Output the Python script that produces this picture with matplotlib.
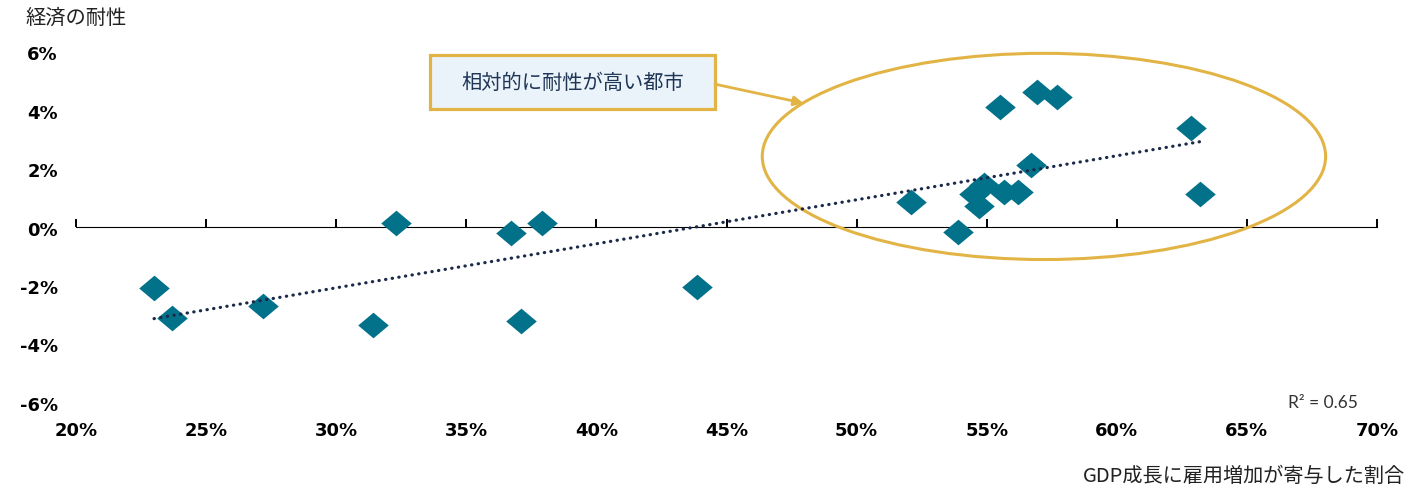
import numpy as np
import matplotlib
matplotlib.use("Agg")
import matplotlib.pyplot as plt
from matplotlib.patches import Ellipse, Rectangle
from matplotlib.path import Path
from matplotlib.ticker import FuncFormatter, NullFormatter

plt.rcParams['font.family'] = ['Noto Sans CJK JP', 'DejaVu Sans']

# data (percent)
employment_share = [23.0, 23.7, 27.2, 31.4, 32.3, 36.7, 37.9, 37.1, 43.85,
                    52.1, 53.9, 55.5, 56.95, 57.7, 62.85, 63.2, 56.7,
                    54.7, 54.9, 54.5, 55.65, 56.2]
resilience = [-2.08, -3.08, -2.67, -3.32, 0.14, -0.2, 0.17, -3.18, -2.02,
              0.86, -0.17, 4.11, 4.62, 4.45, 3.39, 1.16, 2.12,
              0.72, 1.47, 1.13, 1.2, 1.2]
x_ticks = [20, 25, 30, 35, 40, 45, 50, 55, 60, 65, 70]
y_ticks = [-6, -4, -2, 0, 2, 4, 6]
r2_label = "R² = 0.65"
callout_label = "相対的に耐性が高い都市"
y_title = "経済の耐性"
x_title = "GDP成長に雇用増加が寄与した割合"

teal = '#02728A'
gold = '#E2B445'
navy = '#1B2A4A'

fig = plt.figure(figsize=(14.21, 4.89), dpi=100)
ax = fig.add_axes([76/1421, 85/489, 1301/1421, 351/489])
ax.set_xlim(20, 70)
ax.set_ylim(-6, 6)

for s in ax.spines.values():
    s.set_visible(False)

ax.set_xticks(x_ticks)
ax.set_yticks(y_ticks)
fmt = FuncFormatter(lambda v, p: f"{v:.0f}%")
ax.xaxis.set_major_formatter(fmt)
ax.yaxis.set_major_formatter(fmt)
ax.tick_params(axis='x', length=0, pad=13, labelsize=13)
ax.tick_params(axis='y', length=0, pad=13, labelsize=13)
for lab in ax.get_xticklabels() + ax.get_yticklabels():
    lab.set_fontweight('bold')
    lab.set_family('DejaVu Sans')

sec = ax.secondary_xaxis(0.5)
sec.set_xticks(x_ticks)
sec.xaxis.set_major_formatter(NullFormatter())
sec.tick_params(axis='x', direction='out', length=6, width=1.4, color='black',
                labelbottom=False, labeltop=False)
sec.spines['bottom'].set_linewidth(1.4)
sec.spines['bottom'].set_color('black')

# diamond marker (slightly flattened)
diamond = Path([(-1, 0), (0, 0.84), (1, 0), (0, -0.84), (-1, 0)],
               [Path.MOVETO, Path.LINETO, Path.LINETO, Path.LINETO, Path.CLOSEPOLY])
ax.plot(employment_share, resilience, linestyle='none', marker=diamond,
        markersize=22, color=teal, markeredgewidth=0, zorder=3)

# trend line
xs = np.array(employment_share)
ys = np.array(resilience)
k, b = np.polyfit(xs, ys, 1)
xl = np.array([xs.min(), xs.max()])
ax.plot(xl, k * xl + b, linestyle=(0, (0.1, 2.0)), color=navy, linewidth=2.3, zorder=4,
        dash_capstyle='round')

# ellipse
ax.add_patch(Ellipse((57.2, 2.43), 21.65, 7.05, fill=False, edgecolor=gold,
                     linewidth=2.2, zorder=2, clip_on=False))

# callout box
ax.add_patch(Rectangle((33.62, 4.04), 10.92, 1.85, facecolor='#EBF3FA',
                       edgecolor=gold, linewidth=2.3, zorder=5, clip_on=False))
ax.text(39.08, 4.95, callout_label, ha='center', va='center', fontsize=14.6,
        color='#1F3556', zorder=6)
ax.annotate('', xy=(47.96, 4.25), xytext=(44.56, 4.9),
            arrowprops=dict(arrowstyle='-|>', color=gold, lw=2, mutation_scale=14,
                            shrinkA=0, shrinkB=0), zorder=5)

ax.text(69.27, -5.98, r2_label, ha='right', va='center', fontsize=12.5,
        color='#333333', family=['Lato', 'DejaVu Sans'])

fig.text(25/1421, 1 - 18/489, y_title, ha='left', va='center', fontsize=14.6, color='#222222')
fig.text(1405/1421, 1 - 476/489, x_title, ha='right', va='center', fontsize=14.5, color='#222222')

fig.savefig('out.png', dpi=100)
